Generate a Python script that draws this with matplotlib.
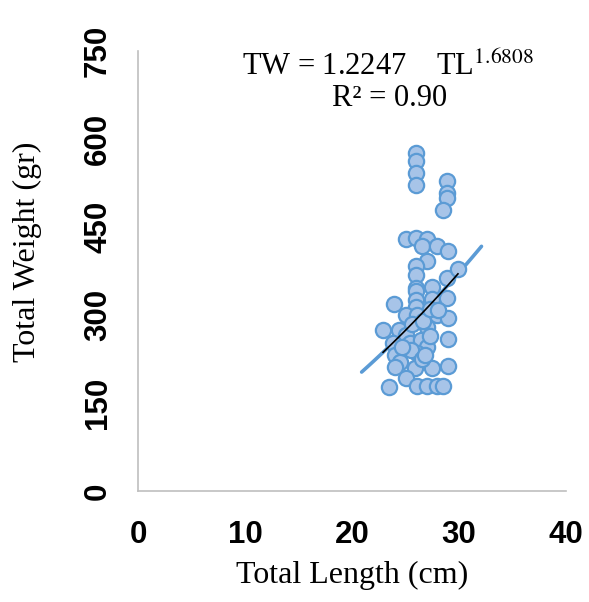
import numpy as np
import matplotlib
matplotlib.use("Agg")
import matplotlib.pyplot as plt

# Comprimento total (cm) e peso total (gr)
total_length = [
    26.0, 26.0, 26.0, 26.0, 28.9, 28.9, 28.9, 28.5,
    25.0, 26.0, 27.0, 26.5, 27.9, 29.0, 27.0, 26.0, 26.0, 26.0, 26.0,
    27.5, 28.9, 29.9, 23.9, 27.5, 28.9, 26.0, 26.0,
    25.0, 26.1, 27.9, 29.0, 27.0, 22.9, 24.4, 25.0, 25.4, 26.4, 27.0,
    29.0, 23.8, 24.0, 26.1, 24.5, 24.0, 25.9, 27.5, 29.0, 25.0, 23.5,
    26.1, 27.0, 27.9, 28.5,
    25.6, 26.6, 27.3, 25.5, 26.5, 27.3, 24.7, 28.0, 26.8,
]
total_weight = [
    576, 562, 542, 522, 528, 508, 499, 479,
    430, 431, 430, 418, 418, 409, 392, 384, 368, 346, 341,
    348, 363, 378, 319, 327, 329, 326, 314,
    300, 300, 300, 295, 280, 274, 274, 266, 252, 257, 246,
    259, 252, 232, 235, 220, 212, 209, 209, 213, 192, 177,
    179, 179, 179, 179,
    285, 290, 310, 240, 225, 265, 245, 308, 232,
]

# Parametros da relacao peso-comprimento (TW = a * TL^b)
coef_a = 1.2247
coef_b = 1.6808
r2 = 0.90

x_ticks = [0, 10, 20, 30, 40]
y_ticks = [0, 150, 300, 450, 600, 750]

fig = plt.figure(figsize=(5.89, 6.02), dpi=100)
ax = fig.add_axes([0.2343, 0.1844, 0.7267, 0.7309])

# Linha de tendencia estendida (azul claro)
tl_ext = np.linspace(20.9, 32.1, 100)
ax.plot(tl_ext, coef_a * tl_ext ** coef_b, color="#5b9bd5", lw=2.6,
        solid_capstyle="round", zorder=1)

ax.plot(total_length, total_weight, "o", ms=11, mfc="#a7c4e8",
        mec="#5b9bd5", mew=1.6, zorder=2)

# Curva ajustada dentro do intervalo dos dados (preta)
tl_fit = np.linspace(22.9, 29.9, 100)
ax.plot(tl_fit, coef_a * tl_fit ** coef_b, color="black", lw=1.2, zorder=3)

ax.set_xlim(0, 40)
ax.set_ylim(0, 750)
ax.set_xticks(x_ticks)
ax.set_yticks(y_ticks)

for s in ["top", "right"]:
    ax.spines[s].set_visible(False)
for s in ["left", "bottom"]:
    ax.spines[s].set_color("#bfbfbf")
    ax.spines[s].set_linewidth(1.2)

ax.tick_params(length=0)
ax.tick_params(axis="x", pad=21)
ax.tick_params(axis="y", pad=18)
for lab in ax.get_xticklabels():
    lab.set_fontfamily("Liberation Sans")
    lab.set_fontweight("bold")
    lab.set_fontsize(22.5)
for lab in ax.get_yticklabels():
    lab.set_fontfamily("Liberation Sans")
    lab.set_fontweight("bold")
    lab.set_fontsize(22.5)
    lab.set_rotation(90)
    lab.set_va("center")

serif = "Liberation Serif"
fig.text(352 / 589, 1 - 575 / 602, "Total Length (cm)", family=serif,
         fontsize=23, ha="center", va="center")
fig.text(27 / 589, 1 - 252 / 602, "Total Weight (gr)", family=serif,
         fontsize=23, ha="center", va="center", rotation=90)

fig.text(388 / 589, 1 - 66 / 602,
         "TW = %.4f    TL$^{%.4f}$" % (coef_a, coef_b),
         family=serif, fontsize=22, ha="center", va="center",
         math_fontfamily="stix")
fig.text(390 / 589, 1 - 98 / 602, "R² = %.2f" % r2, family=serif,
         fontsize=22, ha="center", va="center")

fig.savefig("out.png", dpi=100)
